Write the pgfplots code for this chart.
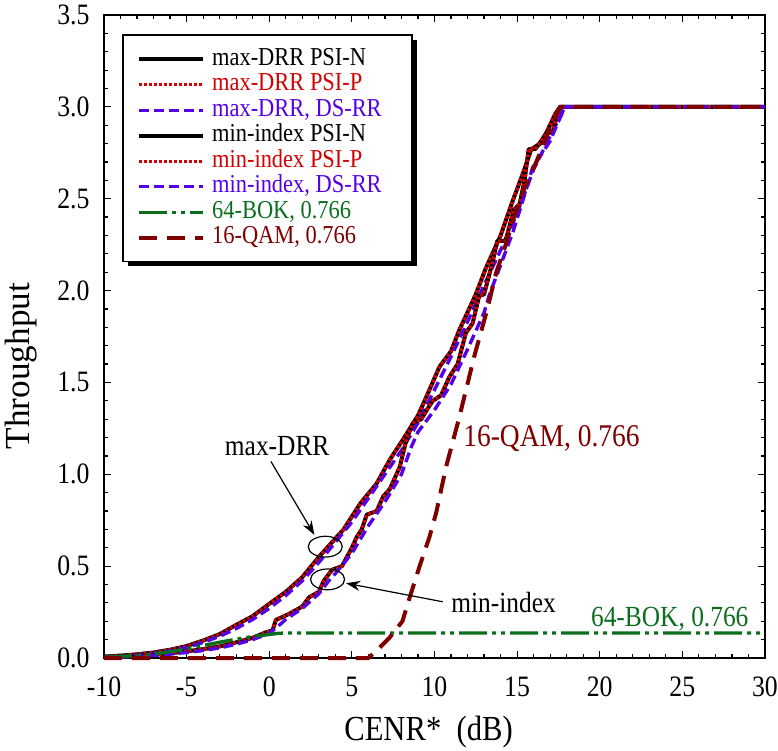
\documentclass[border=0pt]{standalone}
\usepackage{fontspec}
\setmainfont[FakeStretch=0.87]{Liberation Serif}
\usepackage{pgfplots}
\usepackage{pgfplotstable}
\pgfplotsset{compat=1.18}
\usetikzlibrary{arrows.meta,shadows}
\definecolor{cred}{RGB}{210,0,0}
\definecolor{cblue}{RGB}{85,0,230}
\definecolor{cgreen}{RGB}{10,110,30}
\definecolor{cdred}{RGB}{128,0,0}

\pgfplotstableread{
x y
-10 0.008
-9 0.013
-8 0.02
-7 0.03
-6 0.045
-5 0.065
-4 0.095
-3 0.13
-2 0.18
-1 0.228
0 0.295
1 0.36
2 0.44
3 0.55
3.5 0.60
4.5 0.70
5.5 0.84
6.5 0.95
7.3 1.08
8.1 1.19
9.0 1.32
9.5 1.42
10.3 1.585
11 1.67
11.5 1.785
12.3 1.94
12.5 1.98
13.1 2.12
14.0 2.30
14.7 2.48
15.4 2.65
15.86 2.77
16.4 2.80
16.8 2.865
17.3 2.96
17.6 3.0
30 3.0
}\maxN

\pgfplotstableread{
x y
-10 0.004
-9 0.007
-8 0.012
-7 0.018
-6 0.026
-5 0.036
-4 0.048
-3 0.063
-2 0.085
-1 0.11
-0.2 0.14
0.2 0.15
0.4 0.207
1.2 0.24
2.0 0.28
2.4 0.33
3.0 0.36
3.3 0.42
3.8 0.48
4.4 0.50
5.0 0.60
5.3 0.66
5.6 0.70
5.9 0.78
6.5 0.80
6.9 0.88
7.3 0.92
7.7 1.00
7.9 1.04
8.3 1.19
8.7 1.28
9.2 1.30
9.6 1.36
9.9 1.40
10.4 1.43
10.9 1.53
11.4 1.60
11.9 1.77
12.3 1.82
12.7 1.97
13.0 1.98
13.5 2.15
13.8 2.27
14.3 2.27
14.8 2.44
15.15 2.47
15.45 2.60
15.7 2.77
16.1 2.77
16.5 2.82
16.8 2.86
17.15 2.86
17.4 2.96
17.65 3.0
30 3.0
}\minN

\pgfplotstableread{
x y
-10 0.006
-9 0.01
-8 0.016
-7 0.025
-6 0.038
-5 0.057
-4 0.085
-3 0.118
-2 0.16
-1 0.21
0 0.27
1 0.34
2 0.42
3 0.52
4 0.63
5 0.74
6 0.87
7 1.0
8 1.13
9 1.28
10 1.46
11 1.64
12 1.83
13 2.03
14 2.22
15 2.42
16 2.66
17 2.84
17.5 2.93
17.9 3.0
30 3.0
}\maxB

\pgfplotstableread{
x y
-10 0.003
-9 0.005
-8 0.009
-7 0.014
-6 0.021
-5 0.03
-4 0.041
-3 0.055
-2 0.075
-1 0.10
0 0.135
0.5 0.17
1 0.21
2 0.27
3 0.35
3.6 0.42
4 0.46
5 0.57
6 0.72
7 0.85
8 1.0
8.6 1.15
9 1.23
10 1.35
11 1.49
12 1.68
13 1.88
13.33 1.98
13.84 2.10
14.75 2.32
15.45 2.52
15.94 2.67
16.97 2.81
17.5 2.92
17.9 3.0
30 3.0
}\minB

\pgfplotstableread{
x y
-10 0.004
-9 0.008
-8 0.014
-7 0.022
-6 0.034
-5 0.05
-4 0.068
-3 0.086
-2 0.102
-1 0.117
0 0.128
0.5 0.134
1 0.136
30 0.136
}\bok

\pgfplotstableread{
x y
-10 0
6.0 0
6.5 0.04
7.27 0.11
8.06 0.2
8.5 0.33
9.1 0.5
9.7 0.66
10.1 0.79
10.7 1.04
11.5 1.31
12.4 1.64
13.2 1.9
13.74 2.1
14.24 2.23
14.85 2.41
15.45 2.56
16.16 2.70
16.97 2.88
17.6 3.0
30 3.0
}\qam

\begin{document}
\begin{tikzpicture}
\begin{axis}[
 scale only axis, width=330.5pt, height=321.5pt,
 xmin=-10, xmax=30, ymin=0, ymax=3.5,
 xtick={-10,-5,...,30}, ytick={0,0.5,1,1.5,2,2.5,3,3.5},
 minor x tick num=4, minor y tick num=4,
 tick align=inside, tick pos=both,
 major tick length=3.5pt, minor tick length=2pt,
 every tick/.style={black, line width=0.6pt},
 axis line style={line width=1pt},
 /pgf/number format/assume math mode=true,
 ticklabel style={font=\fontsize{14.8}{16}\selectfont},
 xticklabel style={yshift=-5.8pt},
 yticklabel style={xshift=-3.7pt, /pgf/number format/fixed, /pgf/number format/fixed zerofill, /pgf/number format/precision=1},
 xlabel={CENR*\ \ (dB)}, ylabel={\scalebox{1.15}[1]{Throughput}},
 label style={font=\fontsize{17.6}{20}\selectfont},
 xlabel style={at={(axis description cs:0.491,-0.128)}, anchor=base},
 ylabel style={at={(axis description cs:-0.126,0.454)}, anchor=center},
 clip=false,
 legend cell align=left,
 legend style={draw=none, fill=none, inner sep=0pt,
   at={(axis description cs:0.0495,0.95)}, anchor=north west,
   font=\fontsize{12.9}{14}\selectfont,
   nodes={inner sep=0pt, text height=8.8pt, text depth=2.9pt},
   row sep=1.05pt,
   /tikz/every odd column/.append style={column sep=3.5pt}},
 legend image code/.code={\draw[mark repeat=2,mark phase=2] plot coordinates {(0pt,0pt) (16pt,0pt) (32pt,0pt)};},
]
\draw[line width=0.75pt, fill=white, drop shadow={shadow xshift=2.5pt, shadow yshift=-2.5pt, opacity=1, fill=black}]
  (axis description cs:0.0287,0.969) rectangle (axis description cs:0.466,0.617);

\addplot[black, line width=2pt, line join=round] table {\maxN};
\addlegendentry{max-DRR PSI-N}
\addplot[cred, line width=1.7pt, dash pattern=on 1.5pt off 1pt] table {\maxN};
\addlegendentry{\textcolor{cred}{max-DRR PSI-P}}
\addplot[cblue, line width=1.7pt, dash pattern=on 5pt off 2.5pt] table {\maxB};
\addlegendentry{\textcolor{cblue}{max-DRR, DS-RR}}
\addplot[black, line width=2pt, line join=round] table {\minN};
\addlegendentry{min-index PSI-N}
\addplot[cred, line width=1.7pt, dash pattern=on 1.5pt off 1pt] table {\minN};
\addlegendentry{\textcolor{cred}{min-index PSI-P}}
\addplot[cblue, line width=1.7pt, dash pattern=on 5pt off 2.5pt] table {\minB};
\addlegendentry{\textcolor{cblue}{min-index, DS-RR}}
\addplot[cgreen, line width=1.7pt, dash pattern=on 14pt off 2.5pt on 2pt off 2.5pt on 2pt off 2.5pt] table {\bok};
\addlegendentry{\textcolor{cgreen}{64-BOK, 0.766}}
\addplot[cdred, line width=2pt, dash pattern=on 9pt off 5pt] table {\qam};
\addlegendentry{\textcolor{cdred}{16-QAM, 0.766}}

\draw[line width=0.6pt] (axis cs:3.39,0.606) ellipse [x radius=8.5pt, y radius=5.2pt];
\draw[line width=0.6pt] (axis cs:3.53,0.428) ellipse [x radius=8.5pt, y radius=5.2pt];
\draw[line width=0.6pt, -{Stealth[length=7pt,width=5pt]}] (axis cs:0.1,1.07) -- (axis cs:2.73,0.67);
\draw[line width=0.6pt, -{Stealth[length=7pt,width=5pt]}] (axis cs:10.5,0.306) -- (axis cs:4.65,0.407);
\node[anchor=base, font=\fontsize{14.6}{16}\selectfont] at (axis cs:0.48,1.10) {max-DRR};
\node[anchor=base west, inner sep=0pt, font=\fontsize{14.6}{16}\selectfont] at (axis cs:11.0,0.25) {min-index};
\node[anchor=base west, inner sep=0pt, text=cdred, font=\fontsize{15.8}{18}\selectfont] at (axis cs:11.72,1.15) {16-QAM, 0.766};
\node[anchor=base west, inner sep=0pt, text=cgreen, font=\fontsize{14.6}{16}\selectfont] at (axis cs:19.45,0.174) {64-BOK, 0.766};
\end{axis}
\pgfresetboundingbox
\useasboundingbox (-52pt,-46.5pt) rectangle (337pt,329pt);
\end{tikzpicture}
\end{document}
